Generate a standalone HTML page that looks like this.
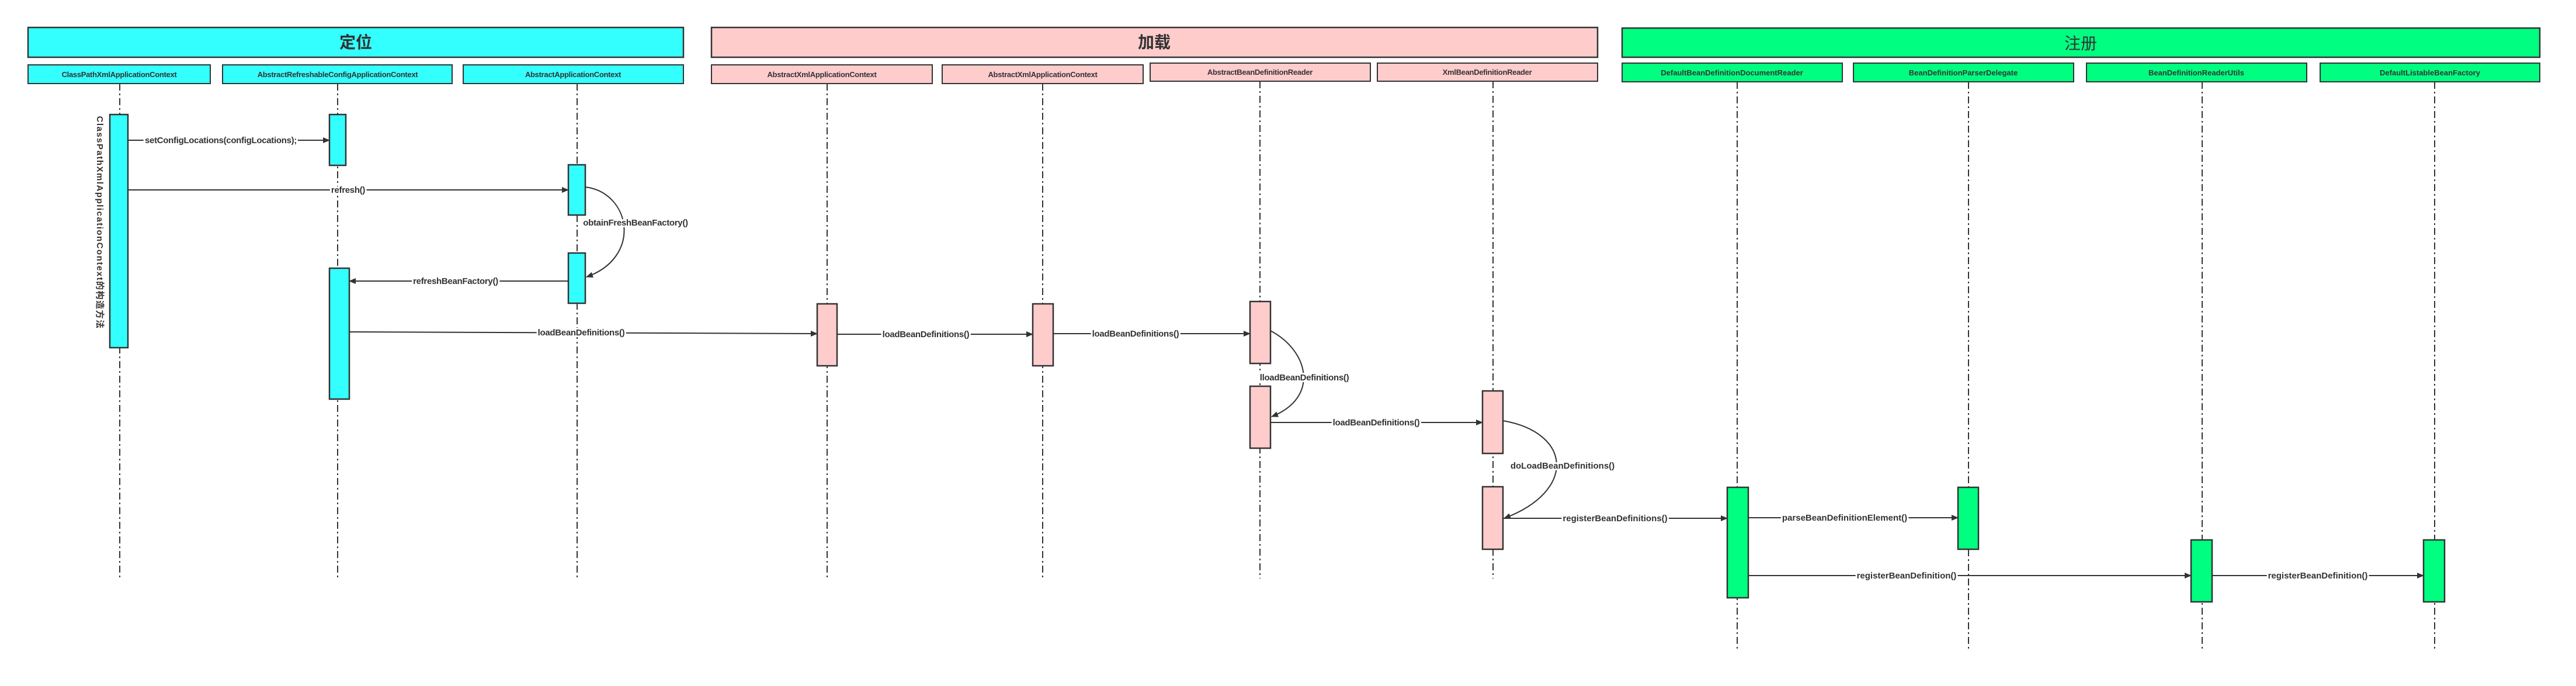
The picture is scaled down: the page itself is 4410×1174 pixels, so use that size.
<!DOCTYPE html>
<html><head><meta charset="utf-8"><style>
html,body{margin:0;padding:0;background:#fff;}
svg{display:block;}
.n{font-family:"Liberation Sans Narrow","Liberation Sans",sans-serif;fill:#333;font-weight:bold;letter-spacing:-0.3px;}
.g{font-family:"Liberation Sans","Noto Sans CJK SC",sans-serif;fill:#333;}
</style></head><body>
<svg width="4410" height="1174" viewBox="0 0 4410 1174" xmlns="http://www.w3.org/2000/svg">
<defs>
<marker id="a" markerWidth="12" markerHeight="10" refX="11" refY="5" orient="auto" markerUnits="userSpaceOnUse">
<path d="M0,0 L12,5 L0,10 Z" fill="#333"/></marker>
</defs>
<g stroke="#333" stroke-width="2.5">
<rect x="48" y="47" width="1122" height="51" fill="#33ffff"/>
<rect x="1218" y="47" width="1517" height="51" fill="#ffcccc"/>
<rect x="2777" y="48" width="1571" height="50" fill="#00ff80"/>
</g>
<g stroke="#333" stroke-width="2">
<rect x="48" y="111" width="312" height="32" fill="#33ffff"/>
<rect x="381" y="111" width="393" height="32" fill="#33ffff"/>
<rect x="793" y="111" width="377" height="32" fill="#33ffff"/>
<rect x="1218" y="111" width="378" height="32" fill="#ffcccc"/>
<rect x="1613" y="111" width="344" height="32" fill="#ffcccc"/>
<rect x="1969" y="108" width="377" height="31" fill="#ffcccc"/>
<rect x="2358" y="108" width="377" height="31" fill="#ffcccc"/>
<rect x="2777" y="108" width="377" height="32" fill="#00ff80"/>
<rect x="3173" y="108" width="377" height="32" fill="#00ff80"/>
<rect x="3572" y="108" width="377" height="32" fill="#00ff80"/>
<rect x="3972" y="108" width="376" height="32" fill="#00ff80"/>
</g>
<g font-weight="bold" text-anchor="middle">
<text x="609" y="82" class="g" font-size="28">定位</text>
<text x="1976" y="82" class="g" font-size="28">加载</text>
<text x="3562" y="84" class="g" font-size="28" font-weight="normal">注册</text>
</g>
<g class="n" font-size="13" text-anchor="middle">
<text x="204" y="132">ClassPathXmlApplicationContext</text>
<text x="578" y="132">AbstractRefreshableConfigApplicationContext</text>
<text x="981" y="132">AbstractApplicationContext</text>
<text x="1407" y="132">AbstractXmlApplicationContext</text>
<text x="1785" y="132">AbstractXmlApplicationContext</text>
<text x="2157" y="128">AbstractBeanDefinitionReader</text>
<text x="2546" y="128">XmlBeanDefinitionReader</text>
</g>
<g class="g" font-size="13" font-weight="bold" text-anchor="middle">
<text x="2965" y="129">DefaultBeanDefinitionDocumentReader</text>
<text x="3361" y="129">BeanDefinitionParserDelegate</text>
<text x="3760" y="129">BeanDefinitionReaderUtils</text>
<text x="4160" y="129">DefaultListableBeanFactory</text>
</g>
<g stroke="#333" stroke-width="2" stroke-dasharray="12,5,3,5" fill="none">
<line x1="205" y1="143" x2="205" y2="990"/>
<line x1="578" y1="143" x2="578" y2="990"/>
<line x1="988" y1="143" x2="988" y2="990"/>
<line x1="1416" y1="143" x2="1416" y2="990"/>
<line x1="1785" y1="143" x2="1785" y2="990"/>
<line x1="2157" y1="139" x2="2157" y2="990"/>
<line x1="2556" y1="139" x2="2556" y2="990"/>
<line x1="2974" y1="140" x2="2974" y2="1110"/>
<line x1="3370" y1="140" x2="3370" y2="1110"/>
<line x1="3770" y1="140" x2="3770" y2="1110"/>
<line x1="4168" y1="140" x2="4168" y2="1110"/>
</g>
<g stroke="#333" stroke-width="2.5">
<rect x="188" y="196" width="31" height="399" fill="#33ffff"/>
<rect x="564" y="196" width="28" height="87" fill="#33ffff"/>
<rect x="973" y="282" width="29" height="86" fill="#33ffff"/>
<rect x="973" y="433" width="29" height="86" fill="#33ffff"/>
<rect x="564" y="459" width="34" height="224" fill="#33ffff"/>
<rect x="1399" y="520" width="34" height="106" fill="#ffcccc"/>
<rect x="1768" y="520" width="35" height="106" fill="#ffcccc"/>
<rect x="2140" y="516" width="35" height="106" fill="#ffcccc"/>
<rect x="2140" y="661" width="35" height="106" fill="#ffcccc"/>
<rect x="2538" y="669" width="35" height="107" fill="#ffcccc"/>
<rect x="2538" y="833" width="35" height="107" fill="#ffcccc"/>
<rect x="2957" y="834" width="36" height="189" fill="#00ff80"/>
<rect x="3352" y="834" width="35" height="106" fill="#00ff80"/>
<rect x="3751" y="924" width="36" height="106" fill="#00ff80"/>
<rect x="4149" y="924" width="36" height="106" fill="#00ff80"/>
</g>
<g stroke="#333" stroke-width="2" fill="none" marker-end="url(#a)">
<line x1="219" y1="240" x2="564" y2="240"/>
<line x1="219" y1="325" x2="973" y2="325"/>
<path d="M1002,320 C1080,330 1100,440 1004,474"/>
<line x1="973" y1="481" x2="598" y2="481"/>
<line x1="598" y1="568" x2="1399" y2="571"/>
<line x1="1433" y1="572" x2="1768" y2="572"/>
<line x1="1803" y1="571" x2="2140" y2="571"/>
<path d="M2175,566 C2240,600 2260,680 2177,713"/>
<line x1="2175" y1="723" x2="2538" y2="723"/>
<path d="M2573,720 C2690,740 2700,840 2575,887"/>
<line x1="2573" y1="887" x2="2957" y2="887"/>
<line x1="2993" y1="886" x2="3352" y2="886"/>
<line x1="2993" y1="985" x2="3751" y2="985"/>
<line x1="3787" y1="985" x2="4149" y2="985"/>
</g>
<g font-size="15" text-anchor="middle">
<text class="n" x="378" y="245" style="paint-order:stroke" stroke="#fff" stroke-width="6">setConfigLocations(configLocations);</text>
<text class="n" x="596" y="330" style="paint-order:stroke" stroke="#fff" stroke-width="6">refresh()</text>
<text class="n" x="1088" y="386" style="paint-order:stroke" stroke="#fff" stroke-width="6">obtainFreshBeanFactory()</text>
<text class="n" x="780" y="486" style="paint-order:stroke" stroke="#fff" stroke-width="6">refreshBeanFactory()</text>
<text class="n" x="995" y="574" style="paint-order:stroke" stroke="#fff" stroke-width="6">loadBeanDefinitions()</text>
<text class="n" x="1585" y="577" style="paint-order:stroke" stroke="#fff" stroke-width="6">loadBeanDefinitions()</text>
<text class="n" x="1944" y="576" style="paint-order:stroke" stroke="#fff" stroke-width="6">loadBeanDefinitions()</text>
<text class="n" x="2233" y="651" style="paint-order:stroke" stroke="#fff" stroke-width="6">lloadBeanDefinitions()</text>
<text class="n" x="2356" y="728" style="paint-order:stroke" stroke="#fff" stroke-width="6">loadBeanDefinitions()</text>
<text class="g" x="2675" y="802" font-weight="bold" style="paint-order:stroke" stroke="#fff" stroke-width="6">doLoadBeanDefinitions()</text>
<text class="g" x="2765" y="892" font-weight="bold" style="paint-order:stroke" stroke="#fff" stroke-width="6">registerBeanDefinitions()</text>
<text class="g" x="3158" y="891" font-weight="bold" style="paint-order:stroke" stroke="#fff" stroke-width="6">parseBeanDefinitionElement()</text>
<text class="g" x="3264" y="990" font-weight="bold" style="paint-order:stroke" stroke="#fff" stroke-width="6">registerBeanDefinition()</text>
<text class="g" x="3968" y="990" font-weight="bold" style="paint-order:stroke" stroke="#fff" stroke-width="6">registerBeanDefinition()</text>
</g>
<text class="g" font-size="15" font-weight="bold" letter-spacing="1.5" transform="translate(166,381) rotate(90)" text-anchor="middle">ClassPathXmlApplicationContext的构造方法</text>
</svg>
</body></html>
